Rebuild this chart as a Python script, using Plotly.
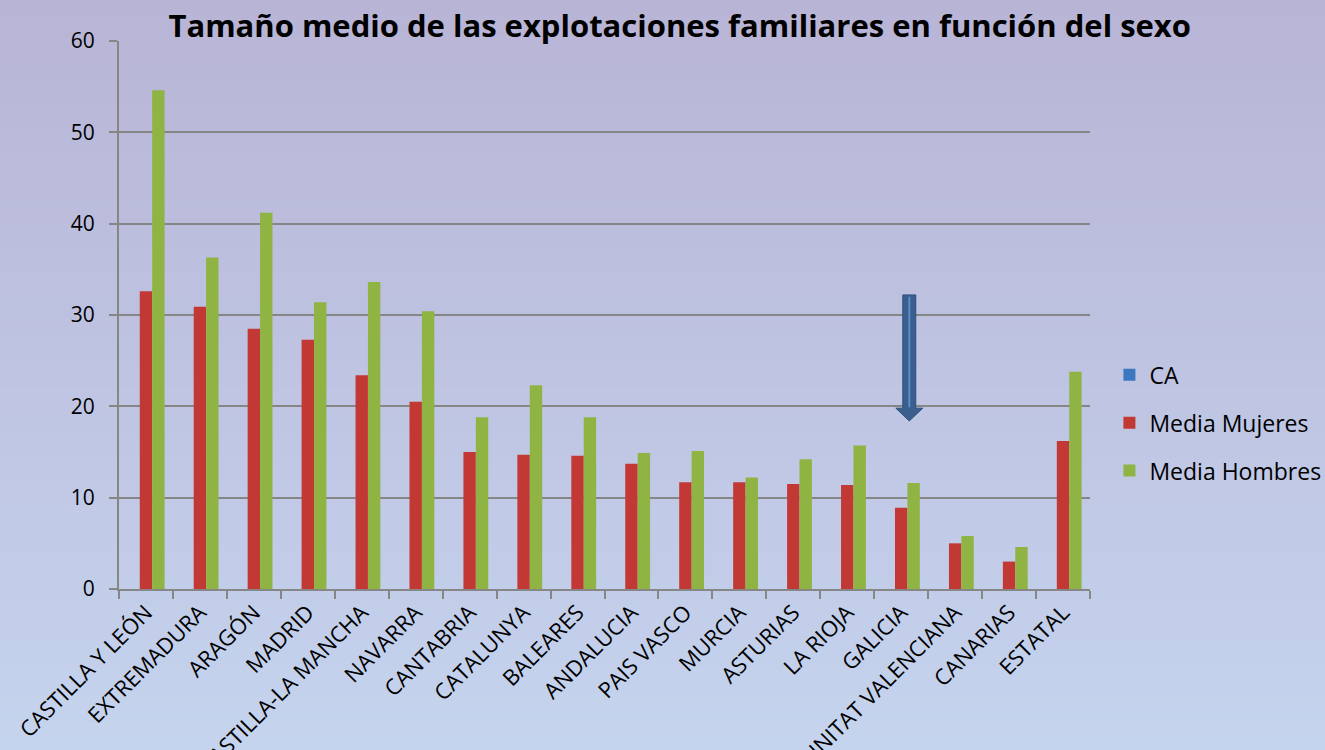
import base64
import struct
import zlib

import plotly.graph_objects as go

# ---------------- data ----------------
categories = [
    "CASTILLA Y LEÓN", "EXTREMADURA", "ARAGÓN", "MADRID", "CASTILLA-LA MANCHA",
    "NAVARRA", "CANTABRIA", "CATALUNYA", "BALEARES", "ANDALUCIA", "PAIS VASCO",
    "MURCIA", "ASTURIAS", "LA RIOJA", "GALICIA", "COMUNITAT VALENCIANA",
    "CANARIAS", "ESTATAL",
]
ca_values = [0] * 18
media_mujeres = [32.6, 30.9, 28.5, 27.3, 23.4, 20.5, 15.0, 14.7, 14.6, 13.7,
                 11.7, 11.7, 11.5, 11.4, 8.9, 5.0, 3.0, 16.2]
media_hombres = [54.6, 36.3, 41.2, 31.4, 33.6, 30.4, 18.8, 22.3, 18.8, 14.9,
                 15.1, 12.2, 14.2, 15.7, 11.6, 5.8, 4.6, 23.8]
y_ticks = [0, 10, 20, 30, 40, 50, 60]
series_names = ["CA", "Media Mujeres", "Media Hombres"]

# arrow annotation (category index position, top value, tip value)
arrow_x = 14.15
arrow_top = 32.2
arrow_head = 19.8
arrow_tip = 18.4


# ---------------- background gradient PNG ----------------
def gradient_png(top, bottom, h=256):
    rows = b""
    for i in range(h):
        t = i / (h - 1)
        c = bytes(int(round(top[k] + (bottom[k] - top[k]) * t)) for k in range(3))
        rows += b"\x00" + c
    def chunk(tag, data):
        return struct.pack(">I", len(data)) + tag + data + struct.pack(">I", zlib.crc32(tag + data) & 0xffffffff)
    png = b"\x89PNG\r\n\x1a\n"
    png += chunk(b"IHDR", struct.pack(">IIBBBBB", 1, h, 8, 2, 0, 0, 0))
    png += chunk(b"IDAT", zlib.compress(rows))
    png += chunk(b"IEND", b"")
    return "data:image/png;base64," + base64.b64encode(png).decode()


bg = gradient_png((184, 180, 214), (197, 212, 238))

FONT = "Open Sans"

fig = go.Figure()
colors = ["#3A78C0", "#C13834", "#8FB443"]
for name, vals, col in zip(series_names, [ca_values, media_mujeres, media_hombres], colors):
    fig.add_trace(go.Bar(
        x=categories, y=vals, name=name, legendgroup=name,
        marker=dict(color=col, line=dict(width=0)),
    ))

# arrow shape
sw, hw = 0.12, 0.25
path = (f"M {arrow_x - sw} {arrow_top} L {arrow_x + sw} {arrow_top} "
        f"L {arrow_x + sw} {arrow_head} L {arrow_x + hw} {arrow_head} "
        f"L {arrow_x} {arrow_tip} L {arrow_x - hw} {arrow_head} "
        f"L {arrow_x - sw} {arrow_head} Z")
fig.add_shape(type="path", path=path, xref="x", yref="y",
              fillcolor="#3A5F8F", line=dict(color="#2F4F7A", width=1))
fig.add_shape(type="line", xref="x", yref="y",
              x0=arrow_x, x1=arrow_x, y0=arrow_top - 0.2, y1=arrow_head + 0.1,
              line=dict(color="#5B8CC8", width=2))

fig.update_layout(
    template="none",
    width=1325, height=750,
    margin=dict(l=119, r=235, t=41, b=161, autoexpand=False),
    paper_bgcolor="rgba(0,0,0,0)",
    plot_bgcolor="rgba(0,0,0,0)",
    images=[dict(source=bg, xref="paper", yref="paper", x=-119 / 971, y=1 + 41 / 548,
                 sizex=1325 / 971, sizey=750 / 548, sizing="stretch",
                 xanchor="left", yanchor="top", layer="below")],
    title=dict(text="<b>Tamaño medio de las explotaciones familiares en función del sexo</b>",
               x=0.513, xanchor="center", y=0.965, yanchor="middle",
               font=dict(family=FONT, size=31, color="black")),
    font=dict(family=FONT, size=20, color="black"),
    barmode="group", bargap=0.31, bargroupgap=0,
    showlegend=True,
    legend=dict(x=1.02, xanchor="left", y=0.43, yanchor="top",
                bgcolor="rgba(0,0,0,0)", font=dict(family=FONT, size=23),
                tracegroupgap=15, traceorder="grouped"),
    xaxis=dict(
        type="category", tickangle=-45, tickson="boundaries",
        ticks="outside", ticklen=8, tickcolor="#868686", tickwidth=2,
        showline=True, linecolor="#868686", linewidth=2,
        showgrid=False, automargin=False, range=[-0.5, 17.5],
        tickfont=dict(family=FONT, size=22),
    ),
    yaxis=dict(
        range=[0, 60], tickvals=y_ticks, ticks="outside", ticklen=8,
        tickcolor="#868686", tickwidth=2, ticklabelstandoff=10,
        showline=True, linecolor="#868686", linewidth=2,
        showgrid=True, gridcolor="#868686", gridwidth=2,
        zeroline=False, automargin=False,
        tickfont=dict(family=FONT, size=21),
    ),
)

fig.write_html("out.html", config={"displayModeBar": False},
               post_script="document.body.style.margin='0';document.body.style.overflow='hidden';")
